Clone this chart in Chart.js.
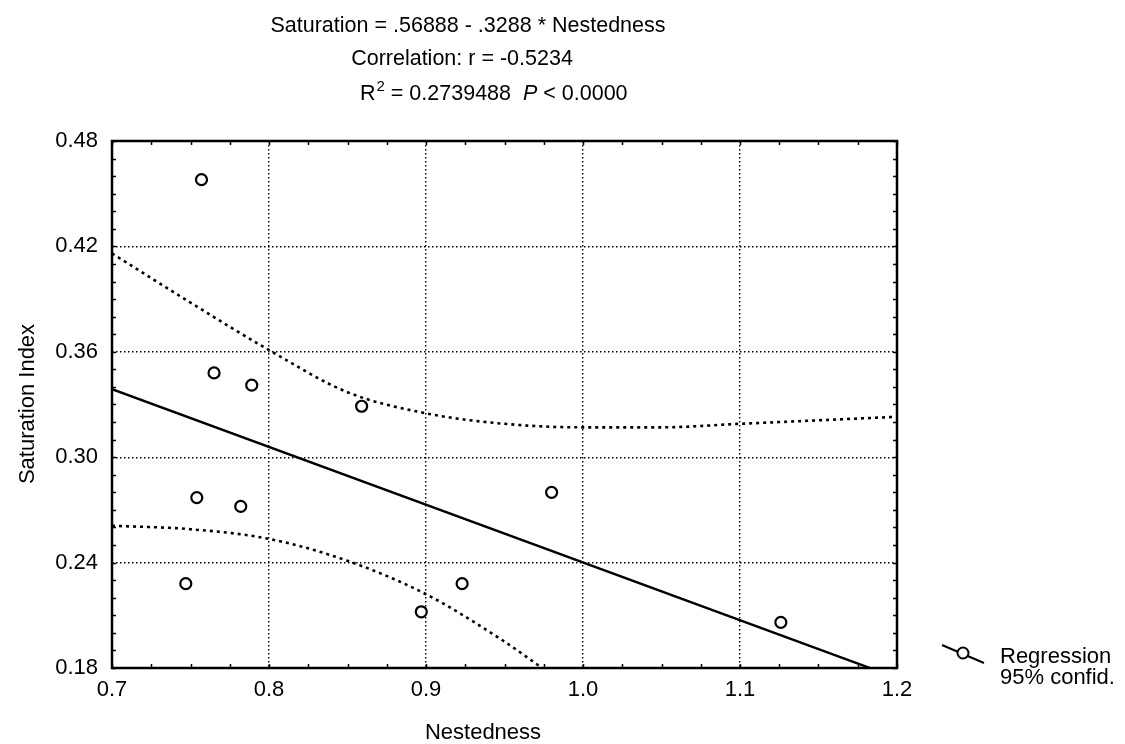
<!DOCTYPE html>
<html>
<head>
<meta charset="utf-8">
<title>Saturation vs Nestedness</title>
<script src="https://cdn.jsdelivr.net/npm/chart.js@4.4.1/dist/chart.umd.min.js"></script>
<style>
  html, body { margin: 0; padding: 0; background: #fff; }
  #wrap { width: 1125px; height: 744px; position: relative; }
</style>
</head>
<body>
<div id="wrap"><canvas id="satChart"></canvas></div>
<script>
// observed sites
const nestedness = [0.757, 0.765, 0.789, 0.859, 0.754, 0.782, 0.747, 0.897, 0.923, 0.980, 1.126];
const saturation = [0.458, 0.348, 0.341, 0.329, 0.277, 0.272, 0.228, 0.212, 0.228, 0.280, 0.206];

// fitted line: Saturation = .56888 - .3288 * Nestedness
const intercept = 0.56888;
const slope = -0.3288;
const fitX = [0.7, 1.2];

// 95% confidence band
const upperX = [0.70, 0.75, 0.80, 0.85, 0.90, 0.95, 1.00, 1.05, 1.10, 1.15, 1.20];
const upperY = [0.416, 0.388, 0.361, 0.337, 0.325, 0.319, 0.317, 0.317, 0.319, 0.321, 0.323];
const lowerX = [0.70, 0.75, 0.80, 0.85, 0.90, 0.95, 0.974];
const lowerY = [0.261, 0.259, 0.2535, 0.241, 0.222, 0.195, 0.180];

// axis ticks
const xTicks = [0.7, 0.8, 0.9, 1.0, 1.1, 1.2];
const yTicks = [0.18, 0.24, 0.30, 0.36, 0.42, 0.48];

const FONT = "'Liberation Sans', Arial, Helvetica, sans-serif";

function pairs(xs, ys) {
  return xs.map((x, i) => ({ x: x, y: ys[i] }));
}

// frame, inward tick marks, titles and legend
const decor = {
  id: 'decor',
  afterDatasetsDraw(chart) {
    const { ctx, chartArea: a, scales: { x, y } } = chart;
    ctx.save();
    ctx.strokeStyle = '#000';
    ctx.lineWidth = 1.5;
    ctx.beginPath();
    for (let v = 0.7; v <= 1.2001; v += 0.025) {
      const px = Math.round(x.getPixelForValue(v)) + 0.5;
      ctx.moveTo(px, a.bottom); ctx.lineTo(px, a.bottom - 4);
      ctx.moveTo(px, a.top); ctx.lineTo(px, a.top + 4);
    }
    for (let v = 0.18; v <= 0.4801; v += 0.01) {
      const py = Math.round(y.getPixelForValue(v)) + 0.5;
      ctx.moveTo(a.left, py); ctx.lineTo(a.left + 4, py);
      ctx.moveTo(a.right, py); ctx.lineTo(a.right - 4, py);
    }
    ctx.stroke();

    ctx.lineWidth = 2.5;
    ctx.strokeRect(a.left, a.top, a.right - a.left, a.bottom - a.top);
    ctx.restore();
  },
  afterDraw(chart) {
    const { ctx } = chart;
    ctx.save();
    ctx.fillStyle = '#000';
    ctx.textBaseline = 'alphabetic';

    // header
    ctx.font = '21.5px ' + FONT;
    ctx.textAlign = 'center';
    ctx.fillText('Saturation = .56888 - .3288 * Nestedness', 468, 32);
    ctx.fillText('Correlation: r = -0.5234', 462, 65);

    ctx.textAlign = 'left';
    let cx = 360;
    ctx.fillText('R', cx, 100);
    cx += ctx.measureText('R').width + 1;
    ctx.font = '15px ' + FONT;
    ctx.fillText('2', cx, 91);
    cx += ctx.measureText('2').width;
    ctx.font = '21.5px ' + FONT;
    const mid = ' = 0.2739488  ';
    ctx.fillText(mid, cx, 100);
    cx += ctx.measureText(mid).width;
    ctx.font = 'italic 21.5px ' + FONT;
    ctx.fillText('P', cx, 100);
    cx += ctx.measureText('P').width;
    ctx.font = '21.5px ' + FONT;
    ctx.fillText(' < 0.0000', cx, 100);

    // axis titles
    ctx.font = '22px ' + FONT;
    ctx.textAlign = 'center';
    ctx.fillText('Nestedness', 483, 739);
    ctx.save();
    ctx.translate(34, 404);
    ctx.rotate(-Math.PI / 2);
    ctx.fillText('Saturation Index', 0, 0);
    ctx.restore();

    // legend
    ctx.strokeStyle = '#000';
    ctx.lineWidth = 2;
    ctx.beginPath();
    ctx.moveTo(942, 645);
    ctx.lineTo(984, 663);
    ctx.stroke();
    ctx.beginPath();
    ctx.arc(963, 653, 5.5, 0, Math.PI * 2);
    ctx.fillStyle = '#fff';
    ctx.fill();
    ctx.stroke();
    ctx.fillStyle = '#000';
    ctx.font = '22px ' + FONT;
    ctx.textAlign = 'left';
    ctx.fillText('Regression', 1000, 663);
    ctx.fillText('95% confid.', 1000, 684);
    ctx.restore();
  }
};

const ctx = document.getElementById('satChart').getContext('2d');
const satChart = new Chart(ctx, {
  type: 'scatter',
  data: {
    datasets: [
      {
        label: 'Sites',
        data: pairs(nestedness, saturation),
        showLine: false,
        pointRadius: 5.5,
        pointBorderWidth: 2.2,
        pointBorderColor: '#000',
        pointBackgroundColor: '#fff',
        order: 0
      },
      {
        label: 'Regression',
        data: fitX.map(v => ({ x: v, y: intercept + slope * v })),
        showLine: true,
        borderColor: '#000',
        borderWidth: 2.4,
        pointRadius: 0,
        order: 1
      },
      {
        label: 'Upper 95%',
        data: pairs(upperX, upperY),
        showLine: true,
        borderColor: '#000',
        borderWidth: 2.6,
        borderDash: [3, 4],
        cubicInterpolationMode: 'monotone',
        pointRadius: 0,
        order: 2
      },
      {
        label: 'Lower 95%',
        data: pairs(lowerX, lowerY),
        showLine: true,
        borderColor: '#000',
        borderWidth: 2.6,
        borderDash: [3, 4],
        cubicInterpolationMode: 'monotone',
        pointRadius: 0,
        order: 2
      }
    ]
  },
  options: {
    responsive: true,
    maintainAspectRatio: false,
    animation: false,
    layout: { padding: { left: 0, top: 141, right: 228, bottom: 0 } },
    scales: {
      x: {
        type: 'linear',
        min: 0.7,
        max: 1.2,
        afterBuildTicks: s => { s.ticks = xTicks.map(v => ({ value: v })); },
        afterFit: s => { s.height = 76; },
        ticks: {
          color: '#000',
          font: { family: FONT, size: 22 },
          padding: 9,
          callback: v => Number(v).toFixed(1)
        },
        grid: { color: '#000', lineWidth: 1.4, drawTicks: false },
        border: { display: false, dash: [1.5, 2.5] }
      },
      y: {
        type: 'linear',
        min: 0.18,
        max: 0.48,
        afterBuildTicks: s => { s.ticks = yTicks.map(v => ({ value: v })); },
        afterFit: s => { s.width = 112; },
        ticks: {
          color: '#000',
          font: { family: FONT, size: 22 },
          padding: 14,
          callback: v => Number(v).toFixed(2)
        },
        grid: { color: '#000', lineWidth: 1.4, drawTicks: false },
        border: { display: false, dash: [1.5, 2.5] }
      }
    },
    plugins: {
      legend: { display: false },
      tooltip: { enabled: false },
      title: { display: false }
    }
  },
  plugins: [decor]
});
</script>
</body>
</html>
